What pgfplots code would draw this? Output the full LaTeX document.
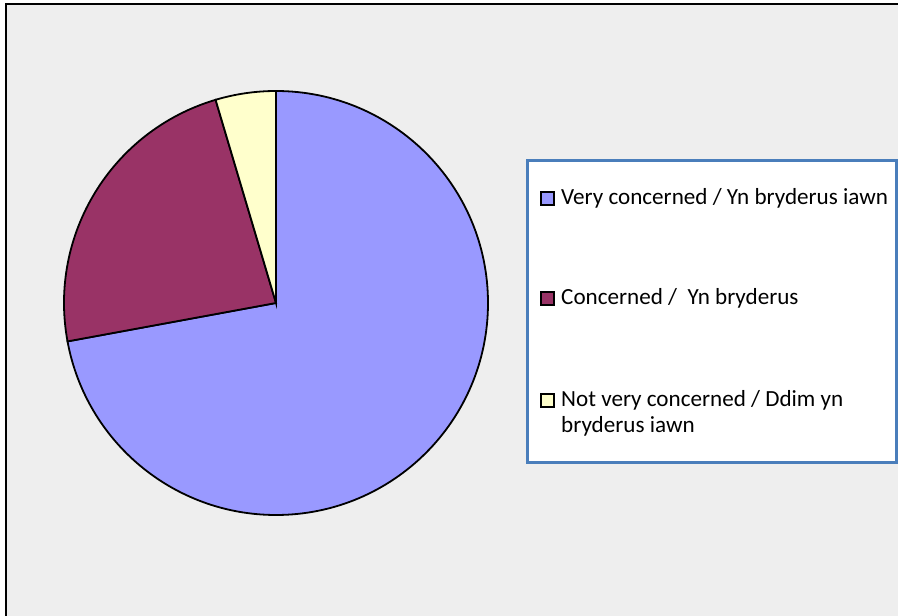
\documentclass[border=0pt]{standalone}
\usepackage{pgfplots}
\usepackage{pgfplotstable}
\pgfplotsset{compat=1.18}
\usepackage{fontspec}
\setmainfont{Carlito}

\definecolor{pieblue}{HTML}{9999FF}
\definecolor{piemaroon}{HTML}{993366}
\definecolor{pieyellow}{HTML}{FFFFCC}
\definecolor{bgcol}{HTML}{EEEEEE}
\definecolor{legborder}{HTML}{4A7EBB}

% share of answers, percent
\pgfplotstableread{
value
72.1
23.3
4.6
}\piedata

\pgfplotstablegetelem{0}{value}\of\piedata \let\va\pgfplotsretval
\pgfplotstablegetelem{1}{value}\of\piedata \let\vb\pgfplotsretval
\pgfplotstablegetelem{2}{value}\of\piedata \let\vc\pgfplotsretval
\pgfmathsetmacro\aA{90}
\pgfmathsetmacro\aB{\aA-3.6*\va}
\pgfmathsetmacro\aC{\aB-3.6*\vb}
\pgfmathsetmacro\aD{\aC-3.6*\vc}

\begin{document}
\begin{tikzpicture}
\begin{axis}[
width=898bp,height=616bp,scale only axis,
xmin=0,xmax=898,ymin=0,ymax=616,
hide axis,clip=false,anchor=south west,at={(0,0)}]
% chart area
\fill[bgcol] (axis cs:6,0) rectangle (axis cs:898,612);
\draw[black,line width=1.6bp] (axis cs:6,0) -- (axis cs:6,612) -- (axis cs:898,612);
% pie
\filldraw[fill=pieblue,draw=black,line width=1.8bp] (axis cs:276,313) -- ++(\aA:212bp) arc[start angle=\aA,end angle=\aB,radius=212bp] -- cycle;
\filldraw[fill=piemaroon,draw=black,line width=1.8bp] (axis cs:276,313) -- ++(\aB:212bp) arc[start angle=\aB,end angle=\aC,radius=212bp] -- cycle;
\filldraw[fill=pieyellow,draw=black,line width=1.8bp] (axis cs:276,313) -- ++(\aC:212bp) arc[start angle=\aC,end angle=\aD,radius=212bp] -- cycle;
% legend
\filldraw[fill=white,draw=legborder,line width=3bp] (axis cs:527.5,153.5) rectangle (axis cs:896.5,455);
\filldraw[fill=pieblue,draw=black,line width=1.3bp] (axis cs:541,411) rectangle (axis cs:554,424);
\filldraw[fill=piemaroon,draw=black,line width=1.3bp] (axis cs:541,311) rectangle (axis cs:554,324);
\filldraw[fill=pieyellow,draw=black,line width=1.3bp] (axis cs:541,209) rectangle (axis cs:554,222);
\node[anchor=base west,inner sep=0pt,font=\fontsize{23.2}{27}\selectfont] at (axis cs:561,411) {Very concerned / Yn bryderus iawn};
\node[anchor=base west,inner sep=0pt,font=\fontsize{23.2}{27}\selectfont] at (axis cs:561,311) {Concerned /\ \ Yn bryderus};
\node[anchor=base west,inner sep=0pt,font=\fontsize{23.2}{27}\selectfont] at (axis cs:561,209) {Not very concerned / Ddim yn};
\node[anchor=base west,inner sep=0pt,font=\fontsize{23.2}{27}\selectfont] at (axis cs:561,183) {bryderus iawn};
\end{axis}
\pgfresetboundingbox
\path[use as bounding box] (0,0) rectangle (898bp,616bp);
\end{tikzpicture}
\end{document}
